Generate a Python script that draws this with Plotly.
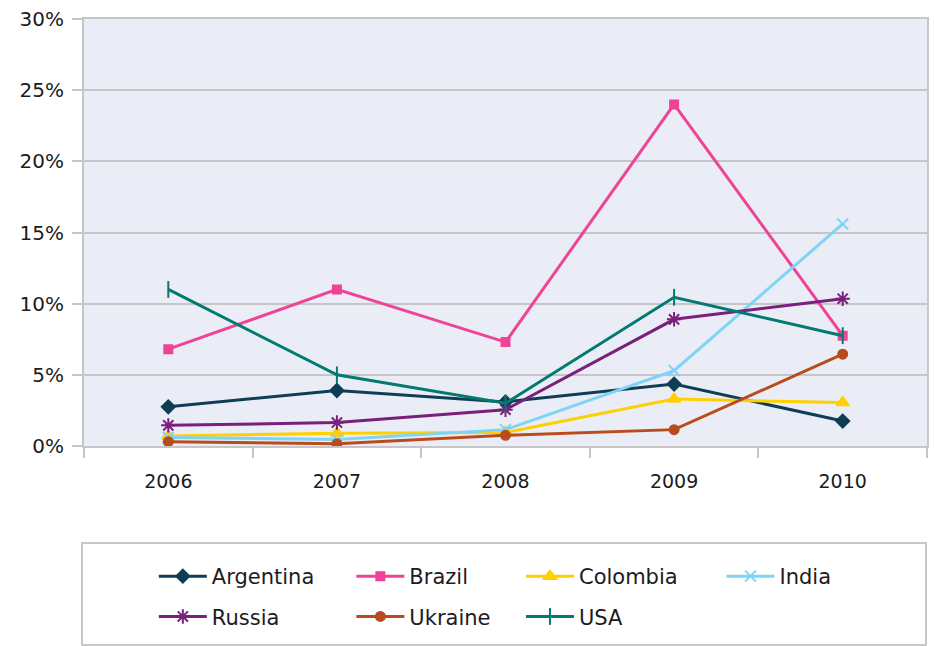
import plotly.graph_objects as go

years = ["2006", "2007", "2008", "2009", "2010"]

argentina = [2.75, 3.9, 3.1, 4.35, 1.75]
brazil = [6.8, 11.0, 7.3, 24.0, 7.75]
colombia = [0.7, 0.9, 0.95, 3.3, 3.05]
india = [0.6, 0.45, 1.15, 5.3, 15.6]
russia = [1.45, 1.65, 2.55, 8.9, 10.35]
ukraine = [0.3, 0.15, 0.75, 1.15, 6.45]
usa = [11.0, 5.0, 3.0, 10.45, 7.75]

y_ticks = [0, 5, 10, 15, 20, 25, 30]
y_tick_text = ["0%", "5%", "10%", "15%", "20%", "25%", "30%"]

series = [
    ("Argentina", argentina, "#0E3E55", "diamond", 10, "legend"),
    ("Brazil", brazil, "#EE4396", "square", 8, "legend2"),
    ("Colombia", colombia, "#FFD000", "triangle-up", 11, "legend3"),
    ("India", india, "#7DD4F7", "x-thin-open", 11, "legend4"),
    ("Russia", russia, "#7A1F7C", "asterisk-open", 12, "legend"),
    ("Ukraine", ukraine, "#B94B1D", "circle", 9, "legend2"),
    ("USA", usa, "#027A6F", "line-ns-open", 12, "legend3"),
]

fig = go.Figure()
for name, vals, color, symbol, size, leg in series:
    fig.add_trace(go.Scatter(
        x=years, y=vals, name=name, mode="lines+markers",
        line=dict(color=color, width=3),
        marker=dict(symbol=symbol, size=size, color=color,
                    line=dict(color=color, width=2)),
        legend=leg, legendgroup=name,
    ))

GRID = "#C6C6C8"
TEXT = "#1E1B1C"
FONT = "DejaVu Sans, Arial, sans-serif"

legend_common = dict(
    orientation="v", xanchor="left", yanchor="top",
    bgcolor="rgba(0,0,0,0)", borderwidth=0,
    font=dict(family=FONT, size=21, color=TEXT),
    tracegroupgap=10, itemwidth=48,
)
W = 845.0
H = 427.0
def lx(px):
    return (px - 84) / W
def ly(py):
    return (446 - py) / H

fig.update_layout(
    width=934, height=646,
    margin=dict(l=84, r=5, t=19, b=200),
    paper_bgcolor="white", plot_bgcolor="#EBEDF6",
    font=dict(family=FONT, color=TEXT),
    legend=dict(x=lx(154), y=ly(556), **legend_common),
    legend2=dict(x=lx(352), y=ly(556), **legend_common),
    legend3=dict(x=lx(522), y=ly(556), **legend_common),
    legend4=dict(x=lx(723), y=ly(556), **legend_common),
    xaxis=dict(
        type="category", range=[-0.5, 4.5], tickson="boundaries",
        showgrid=False, showline=True, linecolor=GRID, linewidth=2,
        mirror=True, ticks="outside", ticklen=10, tickwidth=2, tickcolor=GRID,
        tickfont=dict(family=FONT, size=19, color=TEXT), ticklabelstandoff=17,
    ),
    yaxis=dict(
        range=[0, 30], tickvals=y_ticks, ticktext=y_tick_text,
        showgrid=True, gridcolor=GRID, gridwidth=2,
        showline=True, linecolor=GRID, linewidth=2, mirror=True,
        ticks="outside", ticklen=10, tickwidth=2, tickcolor=GRID,
        tickfont=dict(family=FONT, size=20, color=TEXT), ticklabelstandoff=4,
        zeroline=False,
    ),
    shapes=[dict(
        type="rect", xref="paper", yref="paper",
        x0=lx(82), x1=lx(928), y0=ly(543), y1=ly(645),
        line=dict(color="#C8C8C8", width=2), fillcolor="rgba(0,0,0,0)",
        layer="below",
    )],
)

fig.write_html("out.html")
